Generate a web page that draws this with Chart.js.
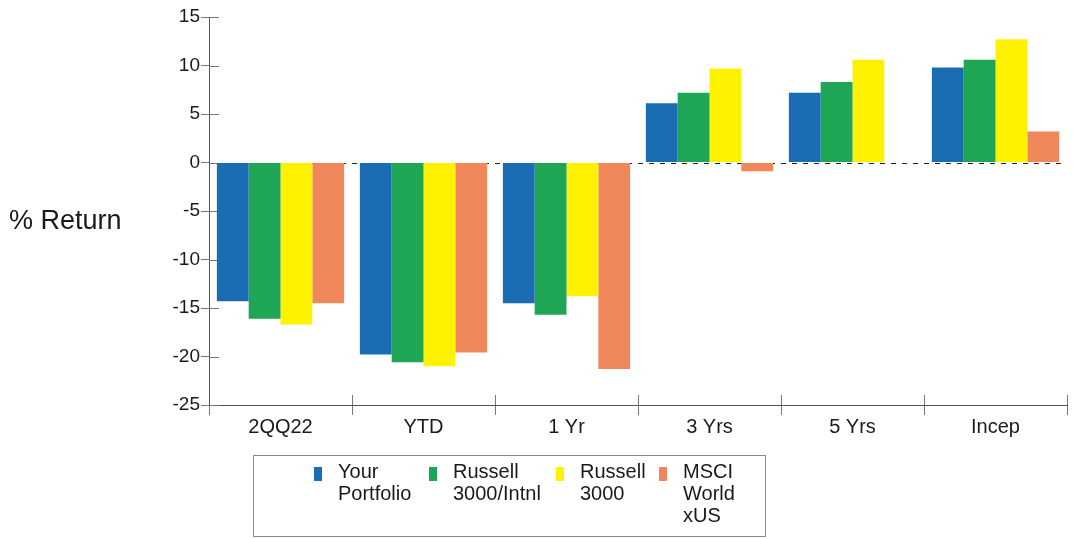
<!DOCTYPE html>
<html>
<head>
<meta charset="utf-8">
<script src="https://cdn.jsdelivr.net/npm/chart.js@4.4.1/dist/chart.umd.min.js"></script>
<style>
  body { margin: 0; background: #fff; font-family: "Liberation Sans", Arial, sans-serif; }
  #wrap { position: relative; width: 1073px; height: 539px; }
  #ytitle { position: absolute; left: 9px; top: 205px; font-size: 27px; color: #1a1a1a; }
  #legend { position: absolute; left: 253px; top: 455px; width: 513px; height: 82px; border: 1px solid #8a8a8a; box-sizing: border-box; }
  .item { position: absolute; top: 4px; font-size: 20px; line-height: 22px; color: #1a1a1a; }
  .item i { position: absolute; left: -24px; top: 7px; width: 8px; height: 14px; }
</style>
</head>
<body>
<div id="wrap">
  <canvas id="chart" width="1073" height="539"></canvas>
  <div id="ytitle">% Return</div>
  <div id="legend"></div>
</div>
<script>
const categories = ['2QQ22', 'YTD', '1 Yr', '3 Yrs', '5 Yrs', 'Incep'];
const seriesNames = [['Your', 'Portfolio'], ['Russell', '3000/Intnl'], ['Russell', '3000'], ['MSCI', 'World', 'xUS']];
const seriesColors = ['#1a6db3', '#1fa655', '#fff200', '#f0875a'];

const yourPortfolio = [-14.3, -19.8, -14.5, 6.1, 7.2, 9.8];
const russellIntl   = [-16.1, -20.6, -15.7, 7.2, 8.3, 10.6];
const russell3000   = [-16.7, -21.0, -13.8, 9.7, 10.6, 12.7];
const msciWorldXus  = [-14.5, -19.6, -21.3, -0.9, 0, 3.2];

const yTicks = [15, 10, 5, 0, -5, -10, -15, -20, -25];

const seriesValues = [yourPortfolio, russellIntl, russell3000, msciWorldXus];

// dashed zero line, plus tick marks poking inside the axes
const axisExtras = {
  id: 'axisExtras',
  beforeDatasetsDraw(chart) {
    const { ctx, chartArea, scales } = chart;
    const y0 = Math.round(scales.y.getPixelForValue(0)) + 0.5;
    ctx.save();
    ctx.strokeStyle = '#222';
    ctx.lineWidth = 1;
    ctx.setLineDash([5, 6]);
    ctx.beginPath();
    ctx.moveTo(chartArea.left, y0);
    ctx.lineTo(chartArea.right, y0);
    ctx.stroke();
    ctx.setLineDash([]);
    ctx.strokeStyle = '#777';
    ctx.beginPath();
    yTicks.forEach(v => {
      const y = Math.round(scales.y.getPixelForValue(v)) + 0.5;
      ctx.moveTo(chartArea.left, y);
      ctx.lineTo(chartArea.left + 10, y);
    });
    const step = (chartArea.right - chartArea.left) / categories.length;
    for (let i = 1; i <= categories.length; i++) {
      const x = Math.round(chartArea.left + step * i) + 0.5;
      ctx.moveTo(x, chartArea.bottom);
      ctx.lineTo(x, chartArea.bottom - 10);
    }
    ctx.stroke();
    ctx.restore();
  }
};

new Chart(document.getElementById('chart'), {
  type: 'bar',
  data: {
    labels: categories,
    datasets: seriesValues.map((vals, i) => ({
      label: seriesNames[i].join(' '),
      data: vals,
      backgroundColor: seriesColors[i],
      borderWidth: 0
    }))
  },
  options: {
    responsive: false,
    animation: false,
    layout: { padding: { top: 17, right: 6, left: 0, bottom: 0 } },
    datasets: { bar: { categoryPercentage: 0.89, barPercentage: 1.0 } },
    plugins: { legend: { display: false }, tooltip: { enabled: false } },
    scales: {
      x: {
        grid: { offset: true, drawOnChartArea: false, drawTicks: true, tickLength: 10, color: '#777' },
        border: { color: '#555', width: 1 },
        ticks: { color: '#1a1a1a', font: { family: 'Liberation Sans', size: 20 }, padding: 0 },
        afterFit(scale) { scale.height = 134; }
      },
      y: {
        min: -25,
        max: 15,
        afterBuildTicks(scale) { scale.ticks = yTicks.map(v => ({ value: v })); },
        grid: { drawOnChartArea: false, drawTicks: true, tickLength: 8, color: '#777' },
        border: { color: '#555', width: 1 },
        ticks: { color: '#1a1a1a', font: { family: 'Liberation Sans', size: 19 }, padding: 1 },
        afterFit(scale) { scale.width = 209; }
      }
    }
  },
  plugins: [axisExtras]
});

// legend below the plot
const legend = document.getElementById('legend');
const legendX = [84, 199, 326, 429];
seriesNames.forEach((lines, i) => {
  const el = document.createElement('div');
  el.className = 'item';
  el.style.left = legendX[i] + 'px';
  el.innerHTML = '<i style="background:' + seriesColors[i] + '"></i>' + lines.join('<br>');
  legend.appendChild(el);
});
</script>
</body>
</html>
